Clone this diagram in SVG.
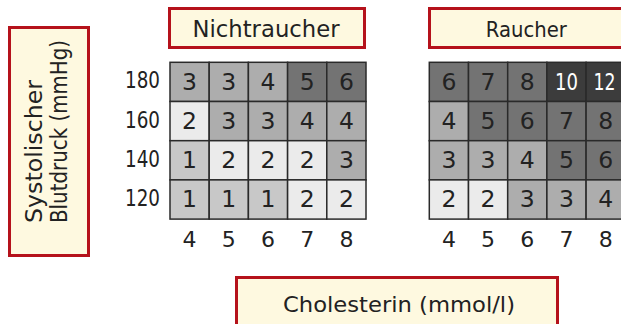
<svg xmlns="http://www.w3.org/2000/svg" width="621" height="324" viewBox="0 0 621 324">
<style>
.box{fill:#fef9e0;stroke:#b5121b;stroke-width:3}
text{font-family:"DejaVu Sans","Liberation Sans",sans-serif;fill:#222}
.lab{font-size:22px;text-anchor:middle}
.d{font-size:23.5px;text-anchor:middle}
.w{fill:#fff}
.rl{font-size:23px;text-anchor:end}
.c1{fill:#c8c8c8}.c2{fill:#ebebeb}.c3{fill:#adadad}.c5{fill:#737373}.c10{fill:#3c3c3c}
.grid rect{stroke:#2a2a2a;stroke-width:1.5}
</style>
<rect width="621" height="324" fill="#fff"/>
<g id="y-axis-label">
<rect class="box" x="9.5" y="27.5" width="79" height="228"/>
<g transform="rotate(-90)">
<text x="-223" y="42" style="font-size:22.5px" textLength="143" lengthAdjust="spacingAndGlyphs">Systolischer</text>
<text x="-223" y="67" style="font-size:22.5px" textLength="183" lengthAdjust="spacingAndGlyphs">Blutdruck (mmHg)</text>
</g>
</g>
<g id="title-nichtraucher">
<rect class="box" x="169.5" y="8.5" width="195" height="39"/>
<text class="lab" x="266" y="36.5" style="font-size:23.5px" textLength="147" lengthAdjust="spacingAndGlyphs">Nichtraucher</text>
</g>
<g id="title-raucher">
<rect class="box" x="429.5" y="8.5" width="195" height="39"/>
<text class="lab" x="526.3" y="36.5" style="font-size:20.5px" textLength="81" lengthAdjust="spacingAndGlyphs">Raucher</text>
</g>
<g id="x-axis-label">
<rect class="box" x="236.5" y="277.5" width="321" height="50"/>
<text class="lab" x="399" y="311.5" style="font-size:22px" textLength="232" lengthAdjust="spacingAndGlyphs">Cholesterin (mmol/l)</text>
</g>
<g id="row-labels">
<text class="rl" x="160" y="88.3" textLength="35" lengthAdjust="spacingAndGlyphs">180</text>
<text class="rl" x="160" y="127.5" textLength="35" lengthAdjust="spacingAndGlyphs">160</text>
<text class="rl" x="160" y="166.7" textLength="35" lengthAdjust="spacingAndGlyphs">140</text>
<text class="rl" x="160" y="205.9" textLength="35" lengthAdjust="spacingAndGlyphs">120</text>
</g>
<g id="grid-nichtraucher" class="grid">
<rect class="c3" x="170" y="62.3" width="39.2" height="39.2"/>
<rect class="c3" x="209.2" y="62.3" width="39.2" height="39.2"/>
<rect class="c3" x="248.4" y="62.3" width="39.2" height="39.2"/>
<rect class="c5" x="287.6" y="62.3" width="39.2" height="39.2"/>
<rect class="c5" x="326.8" y="62.3" width="39.2" height="39.2"/>
<rect class="c2" x="170" y="101.5" width="39.2" height="39.2"/>
<rect class="c3" x="209.2" y="101.5" width="39.2" height="39.2"/>
<rect class="c3" x="248.4" y="101.5" width="39.2" height="39.2"/>
<rect class="c3" x="287.6" y="101.5" width="39.2" height="39.2"/>
<rect class="c3" x="326.8" y="101.5" width="39.2" height="39.2"/>
<rect class="c1" x="170" y="140.7" width="39.2" height="39.2"/>
<rect class="c2" x="209.2" y="140.7" width="39.2" height="39.2"/>
<rect class="c2" x="248.4" y="140.7" width="39.2" height="39.2"/>
<rect class="c2" x="287.6" y="140.7" width="39.2" height="39.2"/>
<rect class="c3" x="326.8" y="140.7" width="39.2" height="39.2"/>
<rect class="c1" x="170" y="179.9" width="39.2" height="39.2"/>
<rect class="c1" x="209.2" y="179.9" width="39.2" height="39.2"/>
<rect class="c1" x="248.4" y="179.9" width="39.2" height="39.2"/>
<rect class="c2" x="287.6" y="179.9" width="39.2" height="39.2"/>
<rect class="c2" x="326.8" y="179.9" width="39.2" height="39.2"/>
<text class="d" x="189.6" y="89.5">3</text><text class="d" x="228.8" y="89.5">3</text><text class="d" x="268" y="89.5">4</text><text class="d" x="307.2" y="89.5">5</text><text class="d" x="346.4" y="89.5">6</text>
<text class="d" x="189.6" y="128.7">2</text><text class="d" x="228.8" y="128.7">3</text><text class="d" x="268" y="128.7">3</text><text class="d" x="307.2" y="128.7">4</text><text class="d" x="346.4" y="128.7">4</text>
<text class="d" x="189.6" y="167.9">1</text><text class="d" x="228.8" y="167.9">2</text><text class="d" x="268" y="167.9">2</text><text class="d" x="307.2" y="167.9">2</text><text class="d" x="346.4" y="167.9">3</text>
<text class="d" x="189.6" y="207.1">1</text><text class="d" x="228.8" y="207.1">1</text><text class="d" x="268" y="207.1">1</text><text class="d" x="307.2" y="207.1">2</text><text class="d" x="346.4" y="207.1">2</text>
</g>
<g id="grid-raucher" class="grid">
<rect class="c5" x="429.3" y="62.3" width="39.2" height="39.2"/>
<rect class="c5" x="468.5" y="62.3" width="39.2" height="39.2"/>
<rect class="c5" x="507.7" y="62.3" width="39.2" height="39.2"/>
<rect class="c10" x="546.9" y="62.3" width="39.2" height="39.2"/>
<rect class="c10" x="586.1" y="62.3" width="39.2" height="39.2"/>
<rect class="c3" x="429.3" y="101.5" width="39.2" height="39.2"/>
<rect class="c5" x="468.5" y="101.5" width="39.2" height="39.2"/>
<rect class="c5" x="507.7" y="101.5" width="39.2" height="39.2"/>
<rect class="c5" x="546.9" y="101.5" width="39.2" height="39.2"/>
<rect class="c5" x="586.1" y="101.5" width="39.2" height="39.2"/>
<rect class="c3" x="429.3" y="140.7" width="39.2" height="39.2"/>
<rect class="c3" x="468.5" y="140.7" width="39.2" height="39.2"/>
<rect class="c3" x="507.7" y="140.7" width="39.2" height="39.2"/>
<rect class="c5" x="546.9" y="140.7" width="39.2" height="39.2"/>
<rect class="c5" x="586.1" y="140.7" width="39.2" height="39.2"/>
<rect class="c2" x="429.3" y="179.9" width="39.2" height="39.2"/>
<rect class="c2" x="468.5" y="179.9" width="39.2" height="39.2"/>
<rect class="c3" x="507.7" y="179.9" width="39.2" height="39.2"/>
<rect class="c3" x="546.9" y="179.9" width="39.2" height="39.2"/>
<rect class="c3" x="586.1" y="179.9" width="39.2" height="39.2"/>
<text class="d" x="448.9" y="89.5">6</text><text class="d" x="488.1" y="89.5">7</text><text class="d" x="527.3" y="89.5">8</text><text class="d w" x="566.5" y="89.5" textLength="23" lengthAdjust="spacingAndGlyphs">10</text><text class="d w" x="604.5" y="89.5" textLength="22" lengthAdjust="spacingAndGlyphs">12</text>
<text class="d" x="448.9" y="128.7">4</text><text class="d" x="488.1" y="128.7">5</text><text class="d" x="527.3" y="128.7">6</text><text class="d" x="566.5" y="128.7">7</text><text class="d" x="605.7" y="128.7">8</text>
<text class="d" x="448.9" y="167.9">3</text><text class="d" x="488.1" y="167.9">3</text><text class="d" x="527.3" y="167.9">4</text><text class="d" x="566.5" y="167.9">5</text><text class="d" x="605.7" y="167.9">6</text>
<text class="d" x="448.9" y="207.1">2</text><text class="d" x="488.1" y="207.1">2</text><text class="d" x="527.3" y="207.1">3</text><text class="d" x="566.5" y="207.1">3</text><text class="d" x="605.7" y="207.1">4</text>
</g>
<g id="column-labels">
<text class="lab" x="189.6" y="247">4</text><text class="lab" x="228.8" y="247">5</text><text class="lab" x="268" y="247">6</text><text class="lab" x="307.2" y="247">7</text><text class="lab" x="346.4" y="247">8</text>
<text class="lab" x="448.9" y="247">4</text><text class="lab" x="488.1" y="247">5</text><text class="lab" x="527.3" y="247">6</text><text class="lab" x="566.5" y="247">7</text><text class="lab" x="605.7" y="247">8</text>
</g>
<g id="connectors"/>
</svg>
